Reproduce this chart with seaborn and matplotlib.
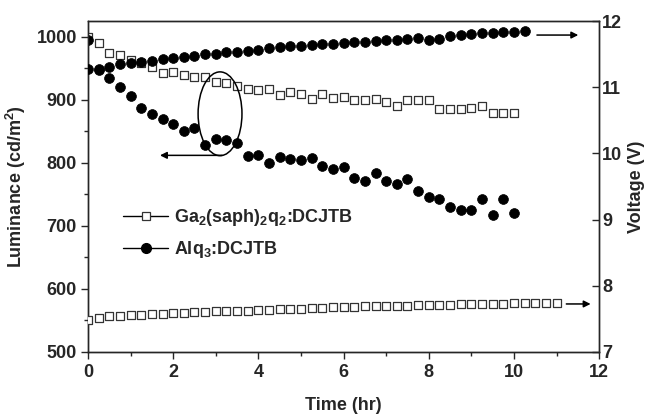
import numpy as np
import matplotlib
matplotlib.use("Agg")
import matplotlib.pyplot as plt
import seaborn as sns
import pandas as pd
from matplotlib.patches import Ellipse
from matplotlib.lines import Line2D

# -----------------------------
# DATA
# -----------------------------
time_lum = [0, 0.25, 0.5, 0.75, 1.0, 1.25, 1.5, 1.75, 2.0, 2.25, 2.5, 2.75, 3.0, 3.25,
            3.5, 3.75, 4.0, 4.25, 4.5, 4.75, 5.0, 5.25, 5.5, 5.75, 6.0, 6.25, 6.5, 6.75,
            7.0, 7.25, 7.5, 7.75, 8.0, 8.25, 8.5, 8.75, 9.0, 9.25, 9.5, 9.75, 10.0]

ga_lum = [1000, 991, 975, 971, 963, 958, 953, 943, 945, 940, 936, 937, 929, 927,
          922, 918, 916, 917, 908, 913, 909, 902, 909, 903, 905, 900, 900, 901,
          896, 890, 900, 900, 900, 886, 886, 886, 887, 890, 880, 880, 880]

alq_lum = [995, 948, 935, 920, 907, 887, 877, 870, 862, 850, 855, 829, 838, 837,
           832, 811, 813, 800, 809, 807, 804, 808, 795, 790, 793, 776, 772, 784,
           771, 767, 775, 756, 746, 743, 730, 725, 725, 743, 717, 742, 720]

time_alq_v = time_lum + [10.25]
alq_volt = [11.27, 11.28, 11.31, 11.35, 11.37, 11.38, 11.40, 11.43, 11.45, 11.46,
            11.48, 11.50, 11.51, 11.53, 11.54, 11.55, 11.57, 11.59, 11.61, 11.62,
            11.63, 11.64, 11.65, 11.66, 11.67, 11.68, 11.69, 11.70, 11.71, 11.71,
            11.73, 11.74, 11.72, 11.73, 11.78, 11.79, 11.80, 11.82, 11.82, 11.83,
            11.84, 11.85]

time_ga_v = time_lum + [10.25, 10.5, 10.75, 11.0]
ga_volt = [7.49, 7.51, 7.54, 7.55, 7.56, 7.56, 7.57, 7.58, 7.585, 7.59, 7.60, 7.61,
           7.615, 7.62, 7.625, 7.625, 7.635, 7.635, 7.645, 7.65, 7.65, 7.665, 7.67,
           7.675, 7.68, 7.685, 7.69, 7.69, 7.695, 7.70, 7.70, 7.705, 7.71, 7.71,
           7.715, 7.72, 7.72, 7.725, 7.73, 7.73, 7.735, 7.74, 7.74, 7.745, 7.745]

labels = ["Ga$_2$(saph)$_2$q$_2$:DCJTB", "Alq$_3$:DCJTB"]

lum_df = pd.DataFrame({"t": time_lum, "ga": ga_lum, "alq": alq_lum})
alq_v_df = pd.DataFrame({"t": time_alq_v, "v": alq_volt})
ga_v_df = pd.DataFrame({"t": time_ga_v, "v": ga_volt})

# -----------------------------
# STYLE
# -----------------------------
sns.set_theme(style="ticks")
plt.rcParams["font.family"] = ["Liberation Sans", "DejaVu Sans"]
plt.rcParams["font.weight"] = "bold"
plt.rcParams["mathtext.default"] = "regular"
plt.rcParams["axes.linewidth"] = 1.0

fs = 13

fig = plt.figure(figsize=(6.47, 4.15), dpi=100)
ax = fig.add_axes([0.136, 0.152, 0.790, 0.797])
ax2 = ax.twinx()

sq = dict(marker="s", s=30, facecolor="white", edgecolor="#333333", linewidth=0.9)
dot = dict(marker="o", s=50, color="black", edgecolor="black", linewidth=0.5)

sns.scatterplot(data=lum_df, x="t", y="ga", ax=ax, zorder=3, **sq)
sns.scatterplot(data=lum_df, x="t", y="alq", ax=ax, zorder=3, **dot)
sns.scatterplot(data=ga_v_df, x="t", y="v", ax=ax2, zorder=3, **sq)
sns.scatterplot(data=alq_v_df, x="t", y="v", ax=ax2, zorder=3, **dot)

# axes
ax.set_xlim(0, 12)
ax.set_ylim(500, 1025)
ax2.set_ylim(7, 12)
ax.set_xticks(np.arange(0, 13, 2))
ax.set_xticks(np.arange(0, 13, 1), minor=True)
ax.set_yticks(np.arange(500, 1001, 100))
ax.set_yticks(np.arange(500, 1001, 50), minor=True)
ax2.set_yticks(np.arange(7, 13, 1))

ax.tick_params(which="major", direction="out", length=5, width=1, labelsize=fs, pad=3)
ax.tick_params(which="minor", direction="out", length=3, width=1)
ax.tick_params(axis="x", pad=4)
ax.tick_params(top=False, which="both")
ax2.tick_params(which="major", direction="in", length=5, width=1, labelsize=fs, pad=2,
                right=True, left=False)
for a in (ax, ax2):
    for lab in a.get_xticklabels() + a.get_yticklabels():
        lab.set_fontweight("bold")

ax.set_xlabel("Time (hr)", fontsize=fs, fontweight="bold", labelpad=11)
ax.set_ylabel("Luminance (cd/m$^2$)", fontsize=fs, fontweight="bold", labelpad=6)
ax2.set_ylabel("Voltage (V)", fontsize=fs, fontweight="bold", rotation=90)
ax2.yaxis.set_label_coords(1.056, 0.5)

# annotations
ell = Ellipse((3.1, 878), width=1.03, height=133, fill=False, edgecolor="black", linewidth=1.1, zorder=4)
ax.add_patch(ell)
arrow = dict(arrowstyle="-|>", color="black", lw=1.1, mutation_scale=10, shrinkA=0, shrinkB=0)
ax.annotate("", xy=(1.69, 812), xytext=(3.15, 812), arrowprops=arrow)
ax2.annotate("", xy=(11.51, 11.79), xytext=(10.54, 11.79), arrowprops=arrow)
ax2.annotate("", xy=(11.8, 7.725), xytext=(11.23, 7.725), arrowprops=arrow)

# legend
handles = [
    Line2D([], [], color="black", lw=1, marker="s", markersize=5.5, markerfacecolor="white",
           markeredgecolor="#333333", markeredgewidth=0.9),
    Line2D([], [], color="black", lw=1, marker="o", markersize=7, markerfacecolor="black"),
]
leg = ax2.legend(handles, labels, loc="upper left", bbox_to_anchor=(0.037, 0.487), frameon=False,
                 handlelength=2.5, handletextpad=0.3, labelspacing=0.6,
                 prop={"size": fs, "weight": "bold"})

fig.savefig("out.png", dpi=100)
